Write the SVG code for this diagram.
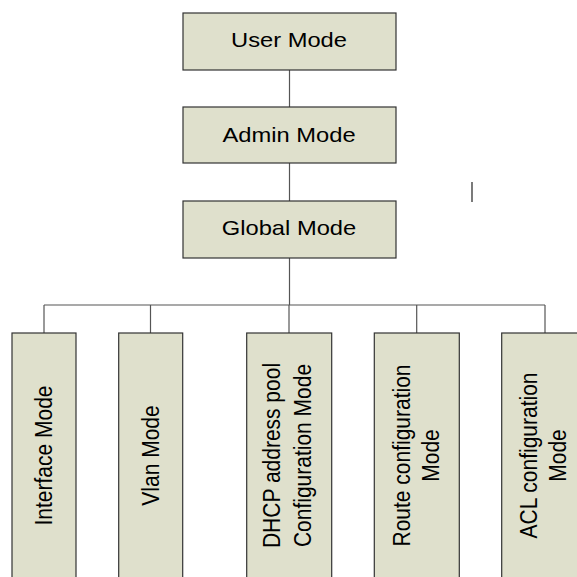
<svg xmlns="http://www.w3.org/2000/svg" width="577" height="577" viewBox="0 0 577 577">
<style>
.box{fill:#dfe0cc;stroke:#333;stroke-width:1.2}
.conn{stroke:#555;stroke-width:1.2;fill:none}
.t{font-family:"Liberation Sans",Arial,sans-serif;font-size:21px;fill:#000;text-anchor:middle}
</style>
<rect width="577" height="577" fill="#fff"/>
<g id="connectors">
<line class="conn" x1="289.5" y1="70" x2="289.5" y2="107"/>
<line class="conn" x1="289.5" y1="163" x2="289.5" y2="201"/>
<line class="conn" x1="289.5" y1="258" x2="289.5" y2="305"/>
<line class="conn" x1="44" y1="305" x2="545" y2="305"/>
<line class="conn" x1="44" y1="305" x2="44" y2="333"/>
<line class="conn" x1="150.5" y1="305" x2="150.5" y2="333"/>
<line class="conn" x1="289" y1="305" x2="289" y2="333"/>
<line class="conn" x1="416.7" y1="305" x2="416.7" y2="333"/>
<line class="conn" x1="545" y1="305" x2="545" y2="333"/>
</g>
<g id="user">
<rect class="box" x="183" y="13" width="213" height="57"/>
<text class="t" transform="translate(289,46.7) scale(1.13,1)">User Mode</text>
</g>
<g id="admin">
<rect class="box" x="183" y="107" width="213" height="56"/>
<text class="t" transform="translate(289,141.7) scale(1.13,1)">Admin Mode</text>
</g>
<g id="global">
<rect class="box" x="183" y="201" width="213" height="57"/>
<text class="t" transform="translate(289,235) scale(1.13,1)">Global Mode</text>
</g>
<g id="interface">
<rect class="box" x="12" y="333" width="64" height="260"/>
<text class="t" transform="translate(52.3,455.5) scale(1.13,1) rotate(-90)">Interface Mode</text>
</g>
<g id="vlan">
<rect class="box" x="118.7" y="333" width="64" height="260"/>
<text class="t" transform="translate(159.3,455.5) scale(1.13,1) rotate(-90)">Vlan Mode</text>
</g>
<g id="dhcp">
<rect class="box" x="246.7" y="333" width="85" height="260"/>
<text class="t" transform="translate(280,455.5) scale(1.13,1) rotate(-90)">DHCP address pool</text>
<text class="t" transform="translate(310.5,455.5) scale(1.13,1) rotate(-90)">Configuration Mode</text>
</g>
<g id="route">
<rect class="box" x="374.3" y="333" width="85" height="260"/>
<text class="t" transform="translate(410,455.5) scale(1.13,1) rotate(-90)">Route configuration</text>
<text class="t" transform="translate(439.3,455.5) scale(1.13,1) rotate(-90)">Mode</text>
</g>
<g id="acl">
<rect class="box" x="501.7" y="333" width="90" height="260"/>
<text class="t" transform="translate(537,455.5) scale(1.13,1) rotate(-90)">ACL configuration</text>
<text class="t" transform="translate(566,455.5) scale(1.13,1) rotate(-90)">Mode</text>
</g>
<line x1="472" y1="182" x2="472" y2="202" stroke="#222" stroke-width="1.2"/>
</svg>
